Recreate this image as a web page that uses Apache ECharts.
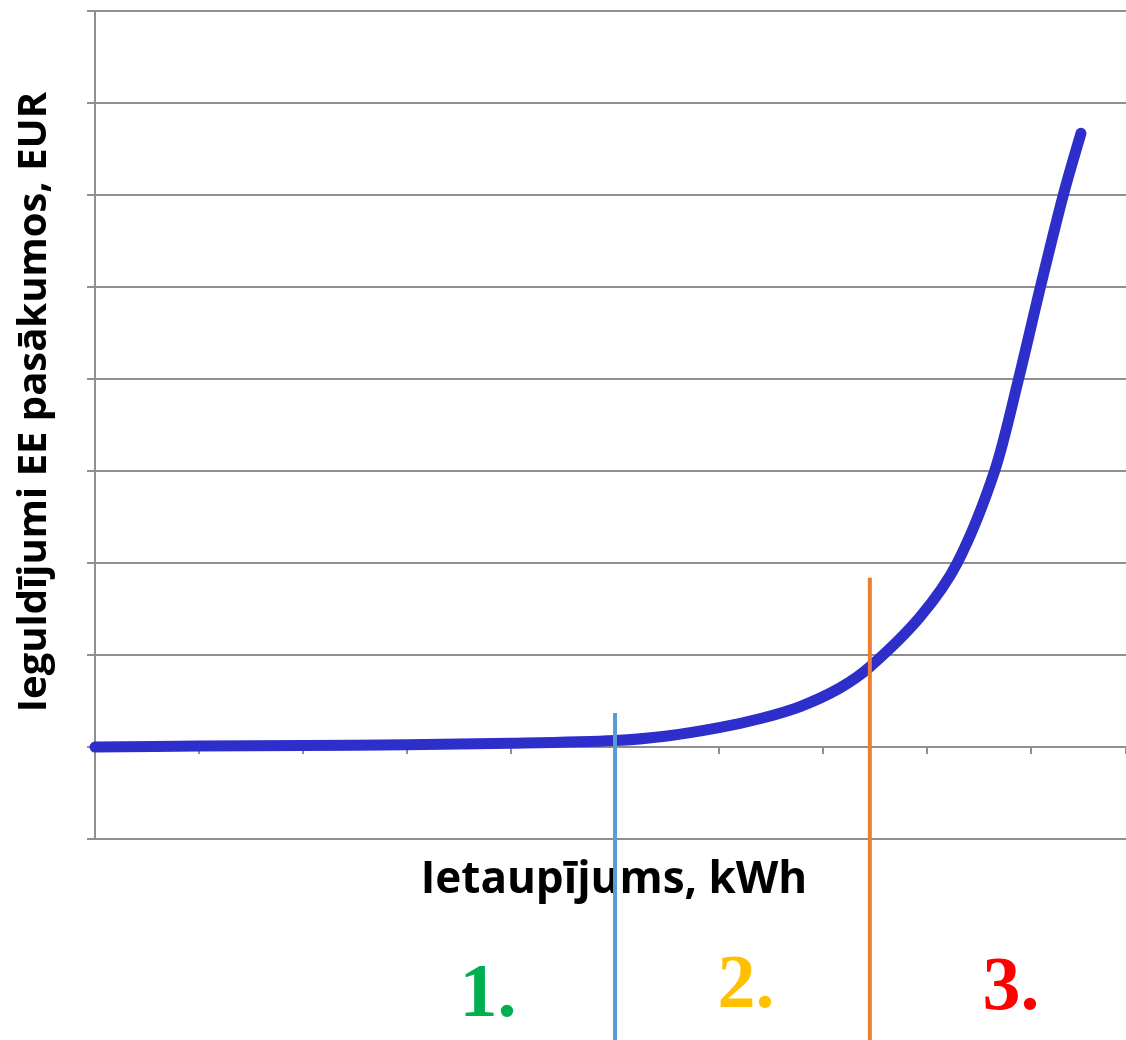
<!DOCTYPE html>
<html>
<head>
<meta charset="utf-8">
<style>
html,body{margin:0;padding:0;background:#fff;}
#chart{width:1126px;height:1040px;}
</style>
<script src="https://cdn.jsdelivr.net/npm/echarts@6/dist/echarts.min.js"></script>
</head>
<body>
<div id="chart"></div>
<script>
// Data
var curveX = [0, 1, 2, 3, 4, 5, 5.5, 6, 6.4, 6.78, 7.16, 7.45, 7.93, 8.29, 8.65, 8.88, 9.09, 9.31, 9.48];
var curveY = [0, 0.01, 0.015, 0.025, 0.04, 0.07, 0.12, 0.21, 0.31, 0.44, 0.64, 0.87, 1.41, 2.0, 3.0, 4.0, 5.0, 6.0, 6.67];
var dividerX = [5.0, 7.45];
var dividerTop = [0.37, 1.84];
var dividerColors = ['#5B9BD5', '#ED7D31'];
var zoneLabels = ['1.', '2.', '3.'];
var zoneColors = ['#00B050', '#FFC000', '#FF0000'];
var xTitle = 'Ietaupījums, kWh';
var yTitle = 'Ieguldījumi EE pasākumos, EUR';
var xMax = 9.913;

var curveData = curveX.map(function (x, i) { return [x, curveY[i]]; });
var dividerData = dividerX.map(function (x, i) { return [x, dividerTop[i], i]; });

var chart = echarts.init(document.getElementById('chart'), null, {renderer: 'canvas'});
var gray = '#8f8f8f';
chart.setOption({
  animation: false,
  grid: {left: 95, right: 0, top: 11, bottom: 201, containLabel: false},
  xAxis: {
    type: 'value', min: 0, max: xMax, interval: 1,
    axisLine: {show: true, onZero: true, lineStyle: {color: gray, width: 2}},
    axisTick: {show: true, length: 7, lineStyle: {color: gray, width: 2}},
    axisLabel: {show: false},
    splitLine: {show: false}
  },
  yAxis: {
    type: 'value', min: -1, max: 8, interval: 1,
    axisLine: {show: true, lineStyle: {color: gray, width: 2}},
    axisTick: {show: true, length: 8, lineStyle: {color: gray, width: 2}},
    axisLabel: {show: false},
    splitLine: {show: true, lineStyle: {color: gray, width: 2}}
  },
  graphic: [
    {type: 'text', x: 35, y: 402, rotation: Math.PI / 2,
     style: {text: yTitle, fontFamily: 'Open Sans', fontWeight: 'bold', fontSize: 40, fill: '#000',
             textAlign: 'center', textVerticalAlign: 'middle'}},
    {type: 'text', x: 614, y: 880,
     style: {text: xTitle, fontFamily: 'Open Sans', fontWeight: 'bold', fontSize: 44, fill: '#000',
             textAlign: 'center', textVerticalAlign: 'middle'}},
    {type: 'text', x: 488, y: 1034, style: {text: zoneLabels[0], fontFamily: 'Liberation Serif', fontWeight: 'bold', fontSize: 76, fill: zoneColors[0], textAlign: 'center', textVerticalAlign: 'bottom'}},
    {type: 'text', x: 746, y: 1025, style: {text: zoneLabels[1], fontFamily: 'Liberation Serif', fontWeight: 'bold', fontSize: 76, fill: zoneColors[1], textAlign: 'center', textVerticalAlign: 'bottom'}},
    {type: 'text', x: 1011, y: 1027, style: {text: zoneLabels[2], fontFamily: 'Liberation Serif', fontWeight: 'bold', fontSize: 76, fill: zoneColors[2], textAlign: 'center', textVerticalAlign: 'bottom'}}
  ],
  series: [
    {
      type: 'line', data: curveData, smooth: 0.3,
      showSymbol: false, symbol: 'none',
      lineStyle: {color: '#2E2ECA', width: 11, cap: 'round', join: 'round'},
      z: 3
    },
    {
      type: 'custom', data: dividerData, clip: false, z: 4,
      renderItem: function (params, api) {
        var top = api.coord([api.value(0), api.value(1)]);
        var idx = api.value(2);
        return {
          type: 'line',
          shape: {x1: top[0], y1: top[1], x2: top[0], y2: api.getHeight()},
          style: {stroke: dividerColors[idx], lineWidth: 4}
        };
      }
    }
  ]
});
</script>
</body>
</html>
